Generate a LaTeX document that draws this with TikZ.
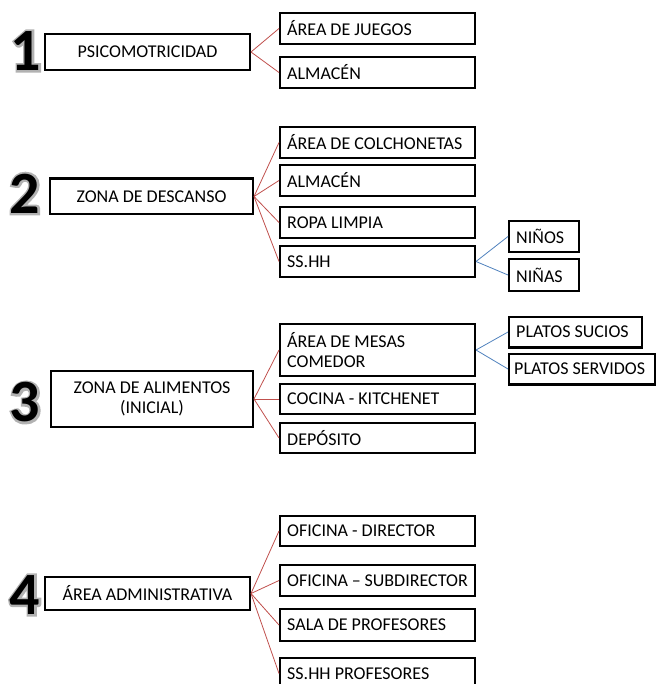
\documentclass[tikz,border=0pt]{standalone}
\usepackage{fontspec}
\setmainfont{Carlito}
\newfontfamily\halofont{Carlito}[BoldFeatures={FakeBold=7}]
\usepackage{xcolor}
\usepackage{tikz}
\usetikzlibrary{positioning}

\definecolor{rojo}{HTML}{C0504D}
\definecolor{azul}{HTML}{4F81BD}

% numero grande con halo gris detras
\newcommand{\cifra}[1]{\rlap{\halofont\bfseries\color{black!30}#1}#1}

\begin{document}
\begin{tikzpicture}[x=1pt, y=-1pt,
            caja/.style={draw=black, line width=2.4pt, rectangle, text=black,
            font=\fontsize{18}{20}\selectfont},
            zona/.style={caja, align=center, minimum width=204.6pt, minimum height=35.6pt},
            espacio/.style={caja, align=flush left, inner xsep=7pt, text width=180.6pt,
            minimum height=30.6pt},
            detalle/.style={caja, align=flush left, inner xsep=7pt, minimum height=30.6pt},
            numero/.style={font=\fontsize{60}{60}\bfseries\selectfont, inner sep=0pt},
            rama/.style={draw=rojo, line width=0.8pt},
            subrama/.style={draw=azul, line width=0.8pt}]
            \useasboundingbox (0,0) rectangle (657,684);

            % 1. psicomotricidad
            \node[numero] (uno) at (26,51) {\cifra{1}};
            \node[zona] (psico) at (147.5,52) {PSICOMOTRICIDAD};
            \node[espacio] (juegos) [right=28pt of psico, yshift=23.5pt] {ÁREA DE JUEGOS};
            \node[espacio] (almacen) [below=11pt of juegos] {ALMACÉN};

            % 2. zona de descanso
            \node[numero] (dos) at (25,193.5) {\cifra{2}};
            \node[zona, minimum width=202.6pt] (descanso) at (151.5,196.5) {ZONA DE DESCANSO};
            \node[espacio] (colchonetas) [right=25pt of descanso, yshift=54pt] {ÁREA DE COLCHONETAS};
            \node[espacio] (almacendos) [below=5pt of colchonetas] {ALMACÉN};
            \node[espacio] (ropa) [below=9pt of almacendos] {ROPA LIMPIA};
            \node[espacio] (sshh) [below=6pt of ropa] {SS.HH};
            \node[detalle, text width=55.6pt] (ninos) [right=32pt of sshh, yshift=25pt] {NIÑOS};
            \node[detalle, text width=55.6pt, minimum height=31.6pt] (ninas) [below=5pt of ninos] {NIÑAS};

            % 3. zona de alimentos
            \node[numero] (tres) at (25,402.5) {\cifra{3}};
            \node[zona, minimum width=201.6pt, minimum height=55.6pt] (alimentos) at (152,399)
                {ZONA DE ALIMENTOS\\(INICIAL)};
            \node[espacio, minimum height=51.6pt] (mesas) [right=25pt of alimentos, yshift=49pt]
                {ÁREA DE MESAS\\COMEDOR};
            \node[espacio, minimum height=29.6pt] (cocina) [below=6pt of mesas] {COCINA - KITCHENET};
            \node[espacio, minimum height=29.6pt] (deposito) [below=7pt of cocina] {DEPÓSITO};
            \node[detalle, text width=118.6pt] (sucios) [right=32pt of mesas, yshift=18pt] {PLATOS SUCIOS};
            \node[detalle, inner xsep=5pt, text width=135.6pt] (servidos)
                [below=4pt of sucios.south west, anchor=north west] {PLATOS SERVIDOS};

            % 4. area administrativa
            \node[numero] (cuatro) at (25,595) {\cifra{4}};
            \node[zona, minimum height=32.6pt] (admin) at (147.5,593.5) {ÁREA ADMINISTRATIVA};
            \node[espacio, minimum height=29.6pt] (director) [right=28pt of admin, yshift=62.5pt] {OFICINA - DIRECTOR};
            \node[espacio, minimum height=30.6pt] (subdirector) [below=17pt of director] {OFICINA – SUBDIRECTOR};
            \node[espacio, minimum height=31.6pt] (sala) [below=11pt of subdirector] {SALA DE PROFESORES};
            \node[espacio] (sshhprof) [below=15pt of sala] {SS.HH PROFESORES};

            \draw[rama] (psico.east) -- (juegos.west);
            \draw[rama] (psico.east) -- (almacen.west);
            \draw[rama] (descanso.east) -- (colchonetas.west);
            \draw[rama] (descanso.east) -- (almacendos.west);
            \draw[rama] (descanso.east) -- (ropa.west);
            \draw[rama] (descanso.east) -- (sshh.west);
            \draw[subrama] (sshh.east) -- (ninos.west);
            \draw[subrama] (sshh.east) -- (ninas.west);
            \draw[rama] (alimentos.east) -- (mesas.west);
            \draw[rama] (alimentos.east) -- (cocina.west);
            \draw[rama] (alimentos.east) -- (deposito.west);
            \draw[subrama] (mesas.east) -- (sucios.west);
            \draw[subrama] (mesas.east) -- (servidos.west);
            \draw[rama] (admin.east) -- (director.west);
            \draw[rama] (admin.east) -- (subdirector.west);
            \draw[rama] (admin.east) -- (sala.west);
            \draw[rama] (admin.east) -- (sshhprof.west);
        \end{tikzpicture}
\end{document}
